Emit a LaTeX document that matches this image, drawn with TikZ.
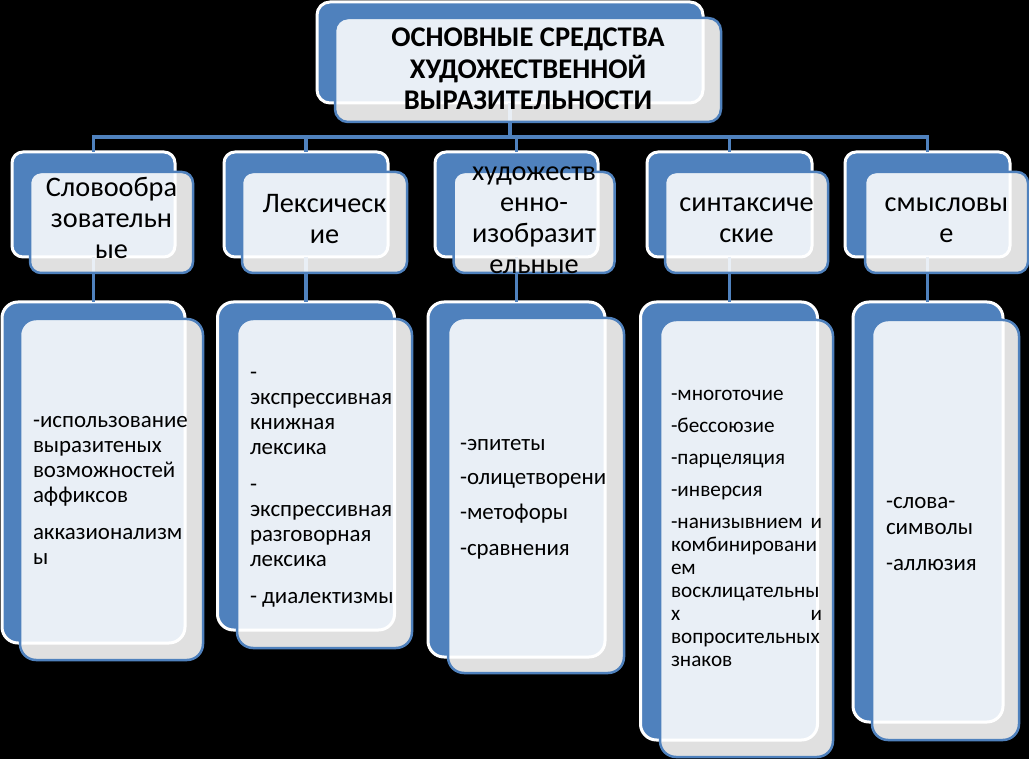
\documentclass[tikz,border=0pt]{standalone}
\usepackage{fontspec}
\setmainfont{Carlito}
\definecolor{sblue}{RGB}{79,129,189}
\hyphenpenalty=10000
\exhyphenpenalty=10000
\begin{document}
\begin{tikzpicture}[x=1pt,y=-1pt,
  backbox/.style={rectangle, draw=white, line width=3pt, fill=sblue,
    rounded corners=#1, inner sep=0pt, outer sep=0pt},
  backbox/.default=11pt,
  frontbox/.style={rectangle, draw=sblue, line width=2.5pt, fill=white,
    fill opacity=0.88, draw opacity=1, rounded corners=#1,
    inner sep=0pt, outer sep=0pt},
  frontbox/.default=11pt,
  conn/.style={draw=sblue, line width=3.5pt},
  headtxt/.style={inner sep=0pt, outer sep=0pt, anchor=base, text=black,
    font=\fontsize{28.5}{31.5}\selectfont\bfseries},
  cattxt/.style={inner sep=0pt, outer sep=0pt, anchor=base, text=black,
    font=\fontsize{28.3}{31}\selectfont},
  itemtxt/.style={inner sep=0pt, outer sep=0pt, anchor=base west, text=black}]

\fill[black] (0,0) rectangle (1029,759);
\useasboundingbox (0,0) rectangle (1029,759);

\coordinate (bar) at (510,137);

% ---------- back boxes
\node[backbox=13pt, minimum width=386pt, minimum height=101pt] (hb) at (510,52.5) {};

\node[backbox, minimum width=163pt, minimum height=105pt] (a1) at (93.5,204.5) {};
\node[backbox, minimum width=164pt, minimum height=105pt] (a2) at (306,204.5) {};
\node[backbox, minimum width=163pt, minimum height=105pt] (a3) at (516.5,204.5) {};
\node[backbox, minimum width=165pt, minimum height=105pt] (a4) at (729.5,204.5) {};
\node[backbox, minimum width=165pt, minimum height=105pt] (a5) at (927.5,204.5) {};

\node[backbox=16pt, minimum width=183pt, minimum height=341pt] (b1) at (93.5,472.5) {};
\node[backbox=16pt, minimum width=177pt, minimum height=328pt] (b2) at (306,466) {};
\node[backbox=16pt, minimum width=177pt, minimum height=355pt] (b3) at (516.5,479.5) {};
\node[backbox=16pt, minimum width=177pt, minimum height=438pt] (b4) at (729,521) {};
\node[backbox=16pt, minimum width=150pt, minimum height=420pt] (b5) at (928,512) {};

% ---------- connectors
\draw[conn] (hb.south) -- (bar);
\draw[conn] (a1.north) |- (bar) -| (a5.north);
\draw[conn] (a2.north) -- (a2.north |- bar);
\draw[conn] (a3.north) -- (a3.north |- bar);
\draw[conn] (a4.north) -- (a4.north |- bar);
\draw[conn] (a1.south) -- (a1.south |- b1.north);
\draw[conn] (a2.south) -- (a2.south |- b2.north);
\draw[conn] (a3.south) -- (a3.south |- b3.north);
\draw[conn] (a4.south) -- (a4.south |- b4.north);
\draw[conn] (a5.south) -- (a5.south |- b5.north);

% ---------- front boxes
\node[frontbox=13pt, minimum width=386pt, minimum height=104pt] (hf) at (528,70) {};

\node[frontbox, minimum width=163pt, minimum height=101pt] (f1) at (111.5,222.5) {};
\node[frontbox, minimum width=165pt, minimum height=101pt] (f2) at (324.5,222.5) {};
\node[frontbox, minimum width=161pt, minimum height=101pt] (f3) at (534,222.5) {};
\node[frontbox, minimum width=163pt, minimum height=101pt] (f4) at (746.5,222.5) {};
\node[frontbox, minimum width=163pt, minimum height=101pt] (f5) at (946.5,222.5) {};

\node[frontbox=16pt, minimum width=183pt, minimum height=341pt] (g1) at (111.5,489.5) {};
\node[frontbox=16pt, minimum width=175pt, minimum height=329pt] (g2) at (324.5,483.5) {};
\node[frontbox=16pt, minimum width=176pt, minimum height=355pt] (g3) at (536,495.5) {};
\node[frontbox=16pt, minimum width=173pt, minimum height=437pt] (g4) at (746.5,538.5) {};
\node[frontbox=16pt, minimum width=147pt, minimum height=420pt] (g5) at (945.5,530) {};

% ---------- texts
\node[headtxt] (ht) at (528,47) {\parbox[t]{380pt}{\centering
  ОСНОВНЫЕ СРЕДСТВА\\ХУДОЖЕСТВЕННОЙ\\ВЫРАЗИТЕЛЬНОСТИ}};

\node[cattxt] (t1) at (111.5,197) {\parbox[t]{200pt}{\centering Словообра\\зовательн\\ые}};
\node[cattxt] (t2) at (324.5,213) {\parbox[t]{200pt}{\centering Лексическ\\ие}};
\node[cattxt] (t3) at (534,181) {\parbox[t]{200pt}{\centering художеств\\енно-\\изобразит\\ельные}};
\node[cattxt] (t4) at (746.5,212) {\parbox[t]{200pt}{\centering синтаксиче\\ские}};
\node[cattxt] (t5) at (946.5,212) {\parbox[t]{200pt}{\centering смысловы\\е}};

\node[itemtxt] (u1) at (33,428) {\parbox[t]{200pt}{\fontsize{22.9}{25}\selectfont
  -использование\\выразитеных\\возможностей\\аффиксов\\[12pt]акказионализм\\ы}};
\node[itemtxt] (u2) at (250,380) {\parbox[t]{200pt}{\fontsize{22.9}{25}\selectfont
  -\\экспрессивная\\книжная\\лексика\\[12pt]-\\экспрессивная\\разговорная\\лексика\\[12pt]- диалектизмы}};
\node[itemtxt] (u3) at (460,450) {\parbox[t]{200pt}{\fontsize{22.9}{25}\selectfont
  -эпитеты\\[10pt]-олицетворени\\[10pt]-метофоры\\[10pt]-сравнения}};
\node[itemtxt] (u4) at (671,401) {\parbox[t]{151pt}{\fontsize{21.2}{23}\selectfont
  -многоточие\\[9pt]-бессоюзие\\[9pt]-парцеляция\\[9pt]-инверсия\\[9pt]-нанизывнием\hfill и\\комбинировани\\ем\\восклицательны\\х\hfill и\\вопросительных\\знаков}};
\node[itemtxt] (u5) at (886,508) {\parbox[t]{200pt}{\fontsize{22.9}{26}\selectfont
  -слова-\\символы\\[10pt]-аллюзия}};

\end{tikzpicture}
\end{document}
